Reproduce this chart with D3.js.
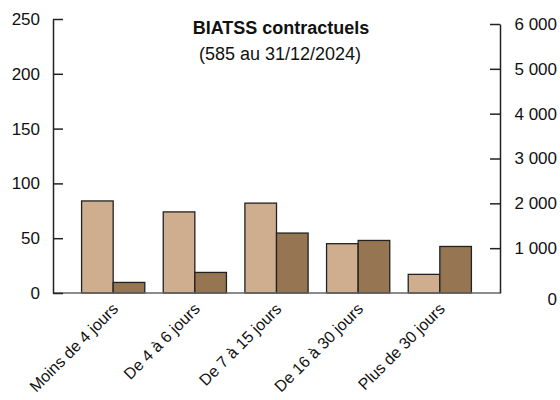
<!DOCTYPE html>
<html><head><meta charset="utf-8">
<script src="https://cdn.jsdelivr.net/npm/d3@7"></script>
<style>
html,body{margin:0;padding:0;background:#fff;}
svg{display:block;font-family:"Liberation Sans",Arial,sans-serif;}
</style></head>
<body>
<svg id="chart" width="560" height="400"></svg>
<script>
const categories = ["Moins de 4 jours","De 4 à 6 jours","De 7 à 15 jours","De 16 à 30 jours","Plus de 30 jours"];
const agents = [84, 74, 82, 45, 17];        // left axis
const days = [236, 459, 1337, 1172, 1038];  // right axis
const leftTicks = [0, 50, 100, 150, 200, 250];
const rightTicks = [0, 1000, 2000, 3000, 4000, 5000, 6000];
const title = "BIATSS contractuels";
const subtitle = "(585 au 31/12/2024)";

const svg = d3.select("#chart");
const xL = 53, xR = 500, yB = 293;
const fs = 17;

const x = d3.scaleBand().domain(categories).range([xL, xR]).paddingInner(0.226).paddingOuter(0.35);
const yLeft = d3.scaleLinear().domain([0, 250]).range([yB, 19]);
const yRight = d3.scaleLinear().domain([0, 6000]).range([yB, 24]);
const fr = d3.formatLocale({decimal: ",", thousands: "\u00a0", grouping: [3], currency: ["", " €"]});
const fmt = fr.format(",d");

const light = "#CFAE8F", dark = "#957552";
const bw = x.bandwidth() / 2;

// bars
const g = svg.append("g");
g.selectAll("rect.l").data(categories).join("rect").attr("class","l")
  .attr("x", d => x(d)).attr("width", bw)
  .attr("y", (d,i) => yLeft(agents[i])).attr("height", (d,i) => yB - yLeft(agents[i]))
  .attr("fill", light).attr("stroke", "#222").attr("stroke-width", 1.3);
g.selectAll("rect.d").data(categories).join("rect").attr("class","d")
  .attr("x", d => x(d) + bw).attr("width", bw)
  .attr("y", (d,i) => yRight(days[i])).attr("height", (d,i) => yB - yRight(days[i]))
  .attr("fill", dark).attr("stroke", "#222").attr("stroke-width", 1.3);

// baseline
svg.append("line").attr("x1", xL).attr("x2", xR).attr("y1", yB).attr("y2", yB)
  .attr("stroke", "#666").attr("stroke-width", 1.5);

// left axis
const la = svg.append("g").attr("transform", `translate(${xL},0)`)
  .call(d3.axisLeft(yLeft).tickValues(leftTicks).tickSizeInner(-10).tickSizeOuter(0).tickPadding(13));
la.select(".domain").attr("stroke", "#222").attr("stroke-width", 1.5);
la.selectAll(".tick line").attr("stroke", "#222").attr("stroke-width", 1.5);
la.selectAll(".tick text").attr("x", -13).attr("font-size", fs).attr("fill", "#111")
  .attr("font-family", "Liberation Sans, Arial, sans-serif");

// right axis
const ra = svg.append("g").attr("transform", `translate(${xR},0)`)
  .call(d3.axisRight(yRight).tickValues(rightTicks).tickFormat(fmt).tickSizeInner(-10).tickSizeOuter(0));
ra.select(".domain").attr("stroke", "#222").attr("stroke-width", 1.5);
ra.selectAll(".tick line").attr("stroke", "#222").attr("stroke-width", 1.5);
ra.selectAll(".tick text").attr("x", 57).attr("text-anchor", "end").attr("font-size", fs).attr("fill", "#111")
  .attr("font-family", "Liberation Sans, Arial, sans-serif")
  .attr("dy", d => d === 0 ? "0.65em" : "0.32em");
ra.selectAll(".tick").filter(d => d === 0).select("line").remove();

// x labels
svg.append("g").selectAll("text").data(categories).join("text")
  .attr("transform", d => `translate(${x(d) + x.bandwidth()/2 + 2},${yB + 13}) rotate(-45)`)
  .attr("text-anchor", "end").attr("dy", "0.35em")
  .attr("font-size", fs - 1).attr("fill", "#111")
  .text(d => d);

// titles
svg.append("text").attr("x", 281).attr("y", 34).attr("text-anchor", "middle")
  .attr("font-size", 18).attr("font-weight", "bold").attr("fill", "#111").text(title);
svg.append("text").attr("x", 280).attr("y", 60).attr("text-anchor", "middle")
  .attr("font-size", 18).attr("fill", "#111").text(subtitle);
</script>
</body></html>
